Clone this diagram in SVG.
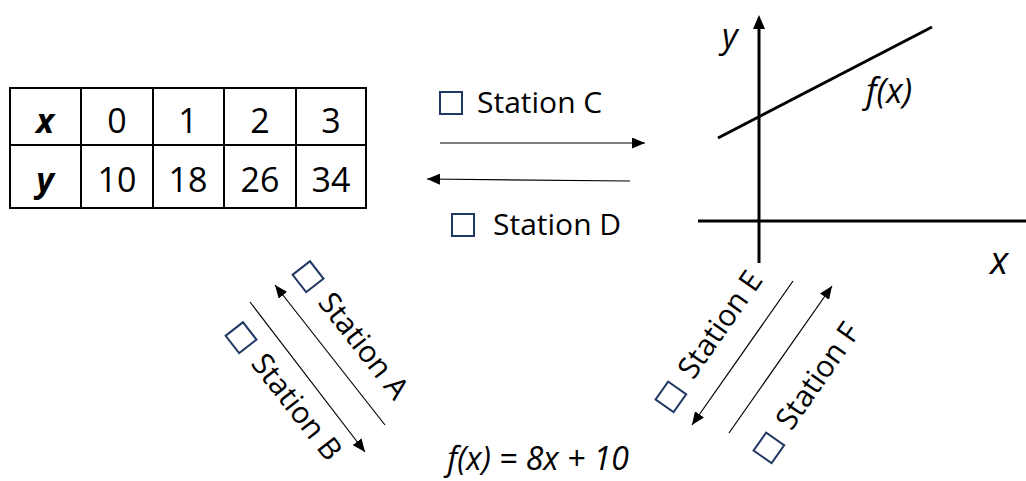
<svg xmlns="http://www.w3.org/2000/svg" width="1026" height="481" viewBox="0 0 1026 481">
<style>
.t{font-family:"Open Sans","Liberation Sans",sans-serif;fill:#000}
.cell{font-size:34px;text-anchor:middle}
.lbl{font-size:30px}
.big{font-size:34px}
.it{font-style:italic}
.box{fill:none;stroke:#203864;stroke-width:2}
.conn{stroke:#000;stroke-width:1.2;fill:none;marker-end:url(#ah)}
.ax{stroke:#000;stroke-width:3;fill:none}
.grid{stroke:#000;stroke-width:2;fill:none}
</style>
<defs>
<marker id="ah" markerUnits="userSpaceOnUse" markerWidth="13" markerHeight="11" refX="13" refY="5.5" orient="auto">
<path d="M0,0 L13,5.5 L0,11 z" fill="#000"/>
</marker>
</defs>
<rect width="1026" height="481" fill="#fff"/>

<g id="table">
<rect class="grid" x="10" y="88" width="356" height="120"/>
<line class="grid" x1="10" y1="145" x2="366" y2="145"/>
<line class="grid" x1="81" y1="88" x2="81" y2="208"/>
<line class="grid" x1="153" y1="88" x2="153" y2="208"/>
<line class="grid" x1="224" y1="88" x2="224" y2="208"/>
<line class="grid" x1="296" y1="88" x2="296" y2="208"/>
<text class="t cell it" x="45" y="133" font-weight="bold">x</text>
<text class="t cell" x="117" y="133">0</text>
<text class="t cell" x="188" y="133">1</text>
<text class="t cell" x="260" y="133">2</text>
<text class="t cell" x="331" y="133">3</text>
<text class="t cell it" x="45" y="192" font-weight="bold">y</text>
<text class="t cell" x="117" y="192">10</text>
<text class="t cell" x="188" y="192">18</text>
<text class="t cell" x="260" y="192">26</text>
<text class="t cell" x="331" y="192">34</text>
</g>

<g id="graph">
<line class="ax" x1="759" y1="26" x2="759" y2="263"/>
<polygon points="759,15 753,29 765,29" fill="#000"/>
<line class="ax" x1="698" y1="221" x2="1030" y2="221"/>
<polygon points="1040,221 1026,215 1026,227" fill="#000"/>
<line class="ax" x1="718" y1="138" x2="932" y2="27"/>
<text class="t big it" x="722" y="48">y</text>
<text class="t big it" x="866" y="103">f(x)</text>
<text class="t it" x="990" y="274" font-size="38px">x</text>
</g>

<g id="stationC">
<rect class="box" x="440" y="92" width="22" height="22"/>
<text class="t lbl" x="477" y="113">Station C</text>
</g>
<g id="stationD">
<rect class="box" x="452" y="214" width="22" height="22"/>
<text class="t lbl" x="493" y="235">Station D</text>
</g>
<g id="stationA" transform="translate(292,274) rotate(52)">
<rect class="box" x="1" y="-22" width="22" height="22"/>
<text class="t lbl" x="38" y="-2">Station A</text>
</g>
<g id="stationB" transform="translate(225,335) rotate(52)">
<rect class="box" x="1" y="-22" width="22" height="22"/>
<text class="t lbl" x="38" y="-2">Station B</text>
</g>
<g id="stationE" transform="translate(673,413) rotate(-55)">
<rect class="box" x="1" y="-22" width="22" height="22"/>
<text class="t lbl" x="38" y="-2">Station E</text>
</g>
<g id="stationF" transform="translate(771,464) rotate(-55)">
<rect class="box" x="1" y="-22" width="22" height="22"/>
<text class="t lbl" x="38" y="-2">Station F</text>
</g>

<g id="formula">
<text class="t it" x="538" y="470" text-anchor="middle" font-size="32px">f(x) = 8x + 10</text>
</g>

<g id="connectors">
<line class="conn" x1="440" y1="143" x2="645" y2="143"/>
<line class="conn" x1="630" y1="181" x2="427" y2="179"/>
<line class="conn" x1="385" y1="425" x2="275" y2="285"/>
<line class="conn" x1="250" y1="302" x2="365" y2="452"/>
<line class="conn" x1="793" y1="281" x2="692" y2="425"/>
<line class="conn" x1="729" y1="433" x2="832" y2="286"/>
</g>
</svg>
